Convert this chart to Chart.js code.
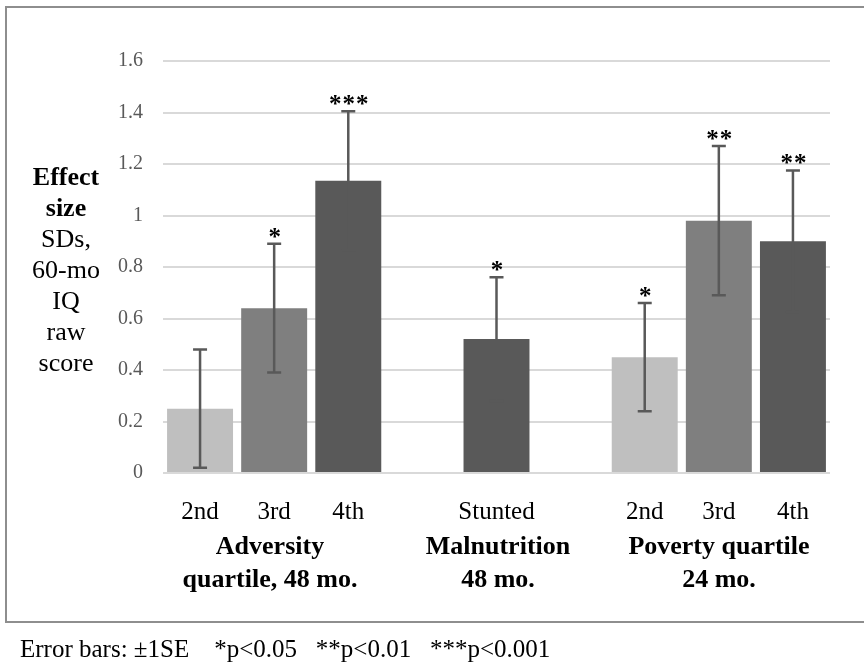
<!DOCTYPE html>
<html>
<head>
<meta charset="utf-8">
<script src="https://cdn.jsdelivr.net/npm/chart.js@4"></script>
<style>
  html, body { margin: 0; padding: 0; background: #fff; }
  body { width: 864px; height: 664px; position: relative; overflow: hidden;
         font-family: "Liberation Serif", "DejaVu Serif", serif; color: #000; }
  #frame { position: absolute; left: 5px; top: 6px; width: 880px; height: 617px;
           border: 2px solid #8e8e8e; box-sizing: border-box; }
  #wrap { position: absolute; left: 0; top: 0; width: 864px; height: 664px; }
  .ytitle { position: absolute; left: 16px; top: 161px; width: 100px; text-align: center;
            font-size: 26px; line-height: 31px; }
  .ytitle b { font-weight: bold; }
  .group { position: absolute; top: 529px; text-align: center; font-weight: bold;
           font-size: 26px; line-height: 33px; white-space: nowrap; transform: translateX(-50%); }
  #foot { position: absolute; left: 20px; top: 634px; font-size: 25px; line-height: 30px; white-space: pre; }
</style>
</head>
<body>
<div id="frame"></div>
<div id="wrap"><canvas id="chart" width="864" height="664"></canvas></div>
<div class="ytitle"><b>Effect</b><br><b>size</b><br>SDs,<br>60-mo<br>IQ<br>raw<br>score</div>
<div class="group" style="left:270px">Adversity<br>quartile, 48 mo.</div>
<div class="group" style="left:498px">Malnutrition<br>48 mo.</div>
<div class="group" style="left:719px">Poverty quartile<br>24 mo.</div>
<div id="foot">Error bars: ±1SE    *p&lt;0.05   **p&lt;0.01   ***p&lt;0.001</div>
<script>
/* ── data ─────────────────────────────────────────────────────── */
const labels    = ['2nd', '3rd', '4th', '', 'Stunted', '', '2nd', '3rd', '4th'];
const effects   = [0.25, 0.64, 1.135, null, 0.52, null, 0.45, 0.98, 0.90];
const stdErrors = [0.23, 0.25, 0.27, null, 0.24, null, 0.21, 0.29, 0.275];
const stars     = ['', '*', '***', '', '*', '', '*', '**', '**'];
const barColors = ['#bfbfbf', '#7f7f7f', '#595959', '#fff', '#595959', '#fff', '#bfbfbf', '#7f7f7f', '#595959'];
const yTicks    = [0, 0.2, 0.4, 0.6, 0.8, 1, 1.2, 1.4, 1.6];

/* ── error bars + stars ───────────────────────────────────────── */
const errorBars = {
  id: 'errorBars',
  afterDatasetsDraw(chart) {
    const { ctx, scales: { x, y } } = chart;
    ctx.save();
    ctx.strokeStyle = '#595959';
    ctx.lineWidth = 2.5;
    effects.forEach((v, i) => {
      if (v == null) return;
      const px = x.getPixelForValue(i);
      const top = y.getPixelForValue(v + stdErrors[i]);
      const bot = y.getPixelForValue(v - stdErrors[i]);
      ctx.beginPath();
      ctx.moveTo(px, top); ctx.lineTo(px, bot);
      ctx.moveTo(px - 7, top); ctx.lineTo(px + 7, top);
      ctx.moveTo(px - 7, bot); ctx.lineTo(px + 7, bot);
      ctx.stroke();
      if (stars[i]) {
        ctx.fillStyle = '#000';
        ctx.font = 'bold 25px "Liberation Serif", serif';
        ctx.textAlign = 'center';
        ctx.textBaseline = 'alphabetic';
        ctx.letterSpacing = '1px';
        ctx.fillText(stars[i], px + 1, top + 1);
      }
    });
    ctx.restore();
  }
};

new Chart(document.getElementById('chart'), {
  type: 'bar',
  data: {
    labels: labels,
    datasets: [{
      data: effects,
      backgroundColor: barColors,
      borderWidth: 0,
      categoryPercentage: 1,
      barPercentage: 0.89,
    }],
  },
  options: {
    responsive: false,
    animation: false,
    layout: { padding: { top: 61, right: 34, left: 0, bottom: 0 } },
    plugins: { legend: { display: false }, tooltip: { enabled: false } },
    scales: {
      x: {
        grid: { display: false },
        border: { display: false },
        ticks: { color: '#000', font: { family: '"Liberation Serif", serif', size: 25 }, padding: 16, maxRotation: 0, autoSkip: false },
        afterFit: s => { s.height = 191; },
      },
      y: {
        min: 0, max: 1.6,
        afterBuildTicks: s => { s.ticks = yTicks.map(v => ({ value: v })); },
        grid: { color: '#d9d9d9', lineWidth: 2, drawTicks: false },
        border: { display: false },
        ticks: { color: '#595959', font: { family: '"Liberation Serif", serif', size: 20 }, padding: 20,
                 callback: v => String(v) },
        afterFit: s => { s.width = 163; },
      },
    },
  },
  plugins: [errorBars],
});
</script>
</body>
</html>
